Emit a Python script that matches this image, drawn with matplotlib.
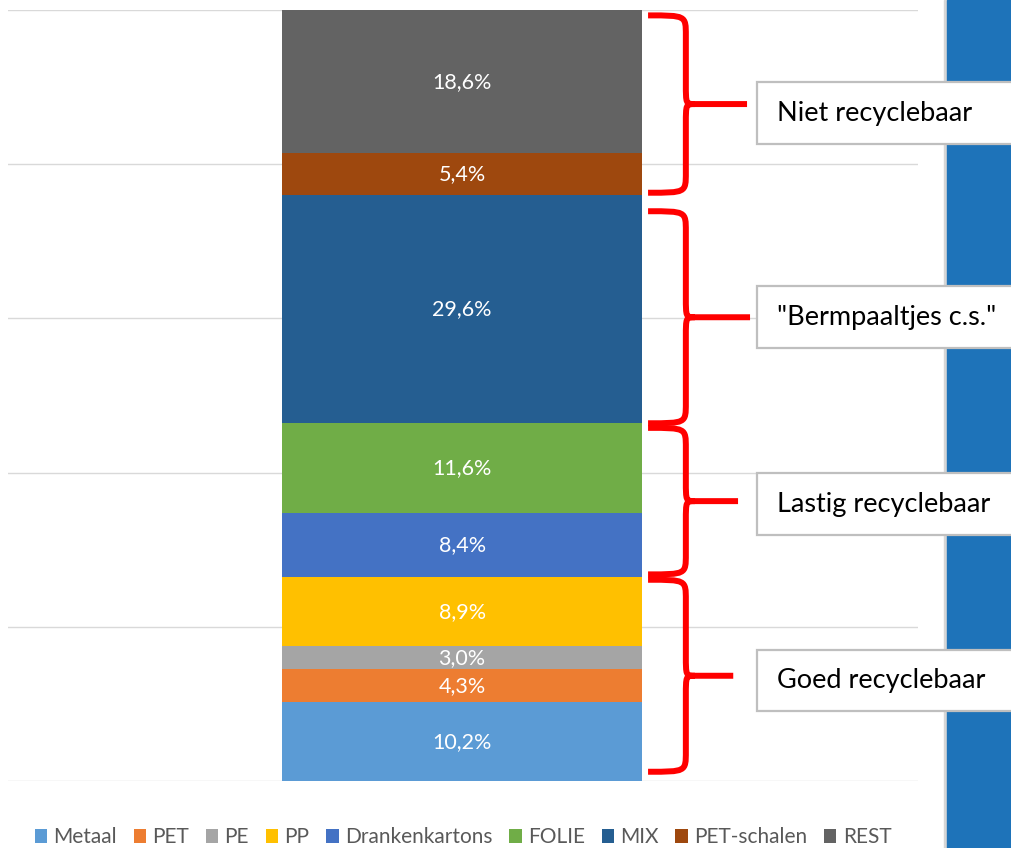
import matplotlib.pyplot as plt
from matplotlib.path import Path
from matplotlib.patches import PathPatch, Rectangle
import numpy as np

plt.rcParams['font.family'] = ['Lato', 'DejaVu Sans']

categories = ['Metaal', 'PET', 'PE', 'PP', 'Drankenkartons', 'FOLIE', 'MIX', 'PET-schalen', 'REST']
values = [10.2, 4.3, 3.0, 8.9, 8.4, 11.6, 29.6, 5.4, 18.6]
colors = ['#5B9BD5', '#ED7D31', '#A5A5A5', '#FFC000', '#4472C4', '#70AD47', '#255E91', '#9E480E', '#636363']

# groups of segments for the red braces (index ranges into values)
groups = [('Goed recyclebaar', 0, 4), ('Lastig recyclebaar', 4, 6),
          ('"Bermpaaltjes c.s."', 6, 7), ('Niet recyclebaar', 7, 9)]

W, H = 1011, 848
fig = plt.figure(figsize=(W / 100, H / 100), dpi=100)

# blue background strip on the right
bg = fig.add_axes([0, 0, 1, 1], zorder=0)
bg.set_xlim(0, W)
bg.set_ylim(H, 0)
bg.axis('off')
bg.add_patch(Rectangle((944, 0), 3, H, color='#D6D6D6'))
bg.add_patch(Rectangle((947, 0), W - 947, H, color='#1E73B9'))

ax = fig.add_axes([8 / W, 1 - 781 / H, 910 / W, 771 / H], zorder=2)
ax.patch.set_alpha(0)
ax.set_xlim(-0.757, 0.76)
ax.set_ylim(0, 100)
for s in ax.spines.values():
    s.set_visible(False)
ax.set_xticks([])
ax.set_yticks(np.arange(0, 101, 20))
ax.tick_params(left=False, labelleft=False)
ax.grid(axis='y', color='#D9D9D9', linewidth=1)
ax.set_axisbelow(True)

bottom = 0
for cat, v, c in zip(categories, values, colors):
    ax.bar(0, v, width=0.6, bottom=bottom, color=c, label=cat, zorder=2)
    ax.text(0, bottom + v / 2, ('%.1f%%' % v).replace('.', ','), color='white',
            ha='center', va='center', fontsize=15.5, zorder=3)
    bottom += v

cum = np.concatenate([[0], np.cumsum(values)])

# braces
x0, x1 = 0.31, 0.373
tips = [0.452, 0.46, 0.48, 0.475]
insets = [(1.2, 0.3), (0.4, 0.6), (0.0, 2.1), (0.3, 0.7)]
box_shift = [-0.6, -0.4, 0.0, -1.2]
ry = 2.6
for (label, i0, i1), xt, (ib, it), sh in zip(groups, tips, insets, box_shift):
    lo = cum[i0] + ib
    hi = cum[i1] - it
    mid = (lo + hi) / 2
    verts = [(x0, hi), (x1, hi), (x1, hi), (x1, hi - ry),
             (x1, mid + ry),
             (x1, mid), (x1, mid), (x1 + 0.015, mid),
             (xt, mid),
             (x1 + 0.015, mid), (x1, mid), (x1, mid), (x1, mid - ry),
             (x1, lo + ry),
             (x1, lo), (x1, lo), (x0, lo)]
    codes = [Path.MOVETO, Path.CURVE4, Path.CURVE4, Path.CURVE4,
             Path.LINETO,
             Path.CURVE4, Path.CURVE4, Path.CURVE4,
             Path.LINETO,
             Path.MOVETO, Path.CURVE4, Path.CURVE4, Path.CURVE4,
             Path.LINETO,
             Path.CURVE4, Path.CURVE4, Path.CURVE4]
    ax.add_patch(PathPatch(Path(verts, codes), facecolor='none', edgecolor='#FF0000',
                           linewidth=4.3, capstyle='butt', joinstyle='round',
                           clip_on=False, zorder=4))
    # label box, running off the right edge
    bx = 0.492
    bm = mid + sh
    ax.add_patch(Rectangle((bx, bm - 4.0), 0.5, 8.0, facecolor='white',
                           edgecolor='#BFBFBF', linewidth=1.6, clip_on=False, zorder=5))
    ax.text(bx + 0.033, bm, label, fontsize=19.5, color='black', ha='left',
            va='center', zorder=6, clip_on=False)

leg = ax.legend(loc='upper center', bbox_to_anchor=(0.5, -0.06), ncol=9,
                frameon=False, fontsize=15, handlelength=0.6, handleheight=0.6,
                handletextpad=0.3, columnspacing=0.8, labelcolor='#595959',
                borderpad=0, borderaxespad=0)

fig.savefig('out.png', dpi=100)
